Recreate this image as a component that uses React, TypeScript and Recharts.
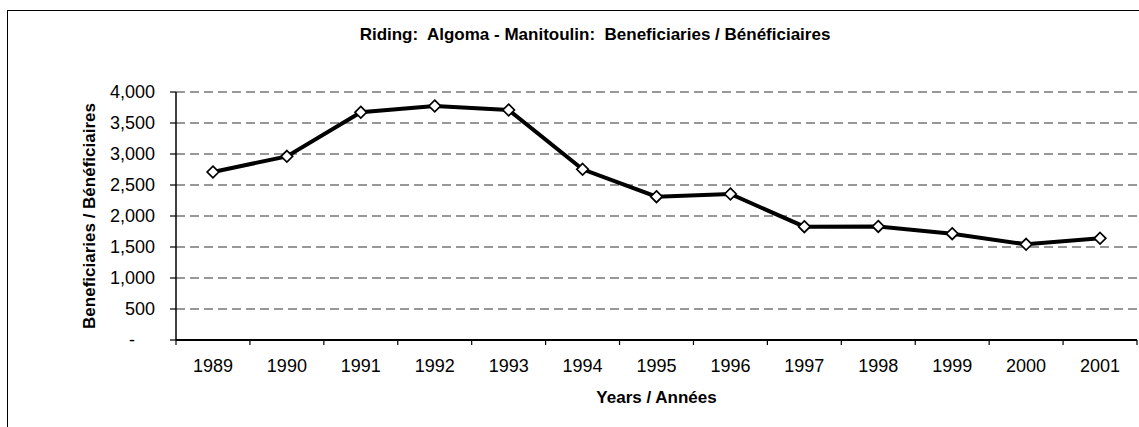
import React from 'react';
import { LineChart, Line, XAxis, YAxis, CartesianGrid } from 'recharts';

const years = ['1989', '1990', '1991', '1992', '1993', '1994', '1995', '1996', '1997', '1998', '1999', '2000', '2001'];
const beneficiaries = [2710, 2962, 3673, 3774, 3710, 2753, 2312, 2355, 1828, 1832, 1715, 1543, 1640];
const yTicks = [0, 500, 1000, 1500, 2000, 2500, 3000, 3500, 4000];

const data = years.map((year, i) => ({ year, value: beneficiaries[i] }));

const narrow = '"Liberation Sans Narrow", "Arial Narrow", "Liberation Sans", Arial, sans-serif';
const plain = '"Liberation Sans", Arial, sans-serif';

const fmt = (v: number) => v.toLocaleString('en-US');

// x tick: year label in the middle, tick marks on category edges (Excel style)
const YearTick = (props: any) => {
  const { x, y, payload, index, visibleTicksCount, width } = props;
  const half = payload && payload.offset ? payload.offset : width / visibleTicksCount / 2;
  const top = y - 19;
  return (
    <g>
      <line x1={x - half} x2={x - half} y1={top} y2={top + 5} stroke="#000" strokeWidth={1.2} />
      {index === visibleTicksCount - 1 && (
        <line x1={x + half} x2={x + half} y1={top} y2={top + 5} stroke="#000" strokeWidth={1.2} />
      )}
      <text x={x} y={y} dy="0.71em" textAnchor="middle" fontFamily={plain} fontSize={18} fill="#000">
        {payload.value}
      </text>
    </g>
  );
};

const ValueTick = (props: any) => {
  const { x, y, payload } = props;
  const zero = payload.value === 0;
  return (
    <text x={zero ? x - 20 : x} y={y} dy="0.355em" textAnchor="end" fontFamily={plain} fontSize={18} fill="#000">
      {zero ? '-' : fmt(payload.value)}
    </text>
  );
};

const Diamond = (props: any) => {
  const { cx, cy } = props;
  if (cx == null || cy == null) return null;
  const r = 5.8;
  return (
    <path
      d={`M${cx},${cy - r}L${cx + r},${cy}L${cx},${cy + r}L${cx - r},${cy}Z`}
      fill="#fff"
      stroke="#000"
      strokeWidth={1.7}
    />
  );
};

export default function App() {
  return (
    <div style={{ position: 'absolute', left: 0, top: 0, width: 1139, height: 427, overflow: 'hidden', background: '#fff' }}>
      <div
        style={{
          position: 'absolute',
          left: 7,
          top: 10,
          width: 1200,
          height: 500,
          border: '1.5px solid #000',
        }}
      />
      <div
        style={{
          position: 'absolute',
          left: 0,
          width: 1190,
          top: 25,
          textAlign: 'center',
          fontFamily: narrow,
          fontWeight: 'bold',
          fontSize: 17,
          whiteSpace: 'pre',
        }}
      >
        {'Riding:  Algoma - Manitoulin:  Beneficiaries / Bénéficiaires'}
      </div>
      <div style={{ position: 'absolute', left: 0, top: 0 }}>
        <LineChart width={1139} height={427} data={data} margin={{ top: 92, right: 2, bottom: 0, left: 0 }}>
          <CartesianGrid vertical={false} stroke="#333" strokeWidth={1.1} strokeDasharray="9 5" />
          <XAxis xAxisId="top" orientation="top" dataKey="year" scale="band" height={0} tick={false} tickLine={false} axisLine={{ stroke: '#222', strokeWidth: 1.3 }} />
          <YAxis yAxisId="right" orientation="right" width={0} domain={[0, 4000]} ticks={yTicks} tick={false} tickLine={false} axisLine={{ stroke: '#555', strokeWidth: 1.2 }} />
          <XAxis
            dataKey="year"
            scale="band"
            height={87}
            tickLine={false}
            tickSize={5}
            tickMargin={14}
            tick={<YearTick />}
            interval={0}
            axisLine={{ stroke: '#000', strokeWidth: 2 }}
            label={{
              content: (p: any) => {
                const vb = p.viewBox;
                return (
                  <text x={vb.x + vb.width / 2} y={vb.y + 63} textAnchor="middle" fontFamily={narrow} fontWeight="bold" fontSize={17} fill="#000">
                    Years / Années
                  </text>
                );
              },
            }}
          />
          <YAxis
            width={176}
            domain={[0, 4000]}
            ticks={yTicks}
            tickSize={6}
            tickMargin={15}
            tickLine={{ stroke: '#000', strokeWidth: 1.2 }}
            tick={<ValueTick />}
            axisLine={{ stroke: '#000', strokeWidth: 1.5 }}
            label={{
              content: (p: any) => {
                const vb = p.viewBox;
                const cx = 95;
                const cy = vb.y + vb.height / 2;
                return (
                  <text x={cx} y={cy} transform={`rotate(-90 ${cx} ${cy})`} textAnchor="middle" fontFamily={narrow} fontWeight="bold" fontSize={17} fill="#000">
                    Beneficiaries / Bénéficiaires
                  </text>
                );
              },
            }}
          />
          <Line
            type="linear"
            dataKey="value"
            stroke="#000"
            strokeWidth={4}
            dot={<Diamond />}
            activeDot={false}
            isAnimationActive={false}
          />
        </LineChart>
      </div>
    </div>
  );
}
